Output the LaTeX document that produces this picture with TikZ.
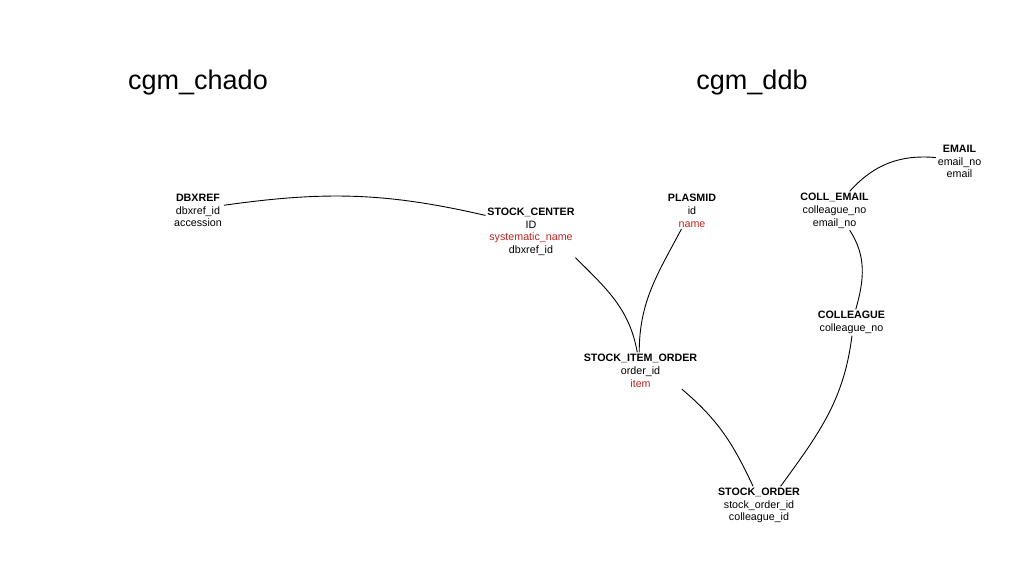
\documentclass[tikz,border=0pt]{standalone}
\usepackage{fontspec}
\setmainfont{Liberation Sans}
\definecolor{fk}{RGB}{185,38,34}
\begin{document}
\begin{tikzpicture}[x=1pt,y=1pt,
  tbl/.style={align=center, font=\fontsize{10.7}{12.6}\selectfont, inner sep=0pt, outer sep=2pt},
  conn/.style={line width=0.9pt, black},
  ttl/.style={font=\fontsize{27}{32}\selectfont, inner sep=0pt}]
\useasboundingbox[fill=white] (0,0) rectangle (1024,-586);
\node[ttl] (t1) at (198,-83) {cgm\_chado};
\node[ttl] (t2) at (752,-83) {cgm\_ddb};
\node[tbl] (dbx) at (198,-210.75) {\textbf{DBXREF}\\dbxref\_id\\accession};
\node[tbl] (sc) at (531,-232) {\textbf{STOCK\_CENTER}\\ID\\\textcolor{fk}{systematic\_name}\\dbxref\_id};
\node[tbl] (pl) at (692,-210.75) {\textbf{PLASMID}\\id\\\textcolor{fk}{name}};
\node[tbl] (em) at (959.5,-161.75) {\textbf{EMAIL}\\email\_no\\email};
\node[tbl] (ce) at (834.5,-210.75) {\textbf{COLL\_EMAIL}\\colleague\_no\\email\_no};
\node[tbl] (col) at (851.5,-322.5) {\textbf{COLLEAGUE}\\colleague\_no};
\node[tbl] (sio) at (640.5,-370.75) {\textbf{STOCK\_ITEM\_ORDER}\\order\_id\\\textcolor{fk}{item}};
\node[tbl] (so) at (759,-505.75) {\textbf{STOCK\_ORDER}\\stock\_order\_id\\colleague\_id};
\draw[conn] (dbx.12) to[out=8,in=167] (sc.160);
\draw[conn] (sc.-30) to[out=-45,in=100] (sio.100);
\draw[conn] (pl.-120) to[out=-118,in=90] (sio.94);
\draw[conn] (sio.-24) to[out=-40,in=115] (so.107);
\draw[conn] (col.-88) to[out=-97,in=54] (so.42);
\draw[conn] (ce.-52) to[out=-57,in=74] (col.72);
\draw[conn] (ce.52) to[out=48,in=175] (em.170);
\end{tikzpicture}
\end{document}
